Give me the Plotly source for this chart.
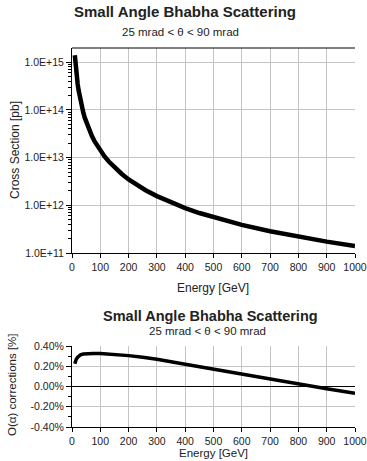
import plotly.graph_objects as go

# Top panel: cross section vs energy
energy_xs = [10, 11, 12, 13, 14, 15, 17, 20, 23, 26, 30, 35, 40, 45, 50, 60, 70, 80, 90,
             100, 115, 130, 150, 175, 200, 230, 260, 300, 350, 400, 450, 500, 550, 600,
             700, 800, 900, 1000]
cross_section = [1.40e15, 1.16e15, 9.7e14, 8.3e14, 7.1e14, 6.2e14, 4.85e14, 3.5e14,
                 2.65e14, 2.07e14, 1.56e14, 1.14e14, 8.75e13, 6.9e13, 5.6e13, 3.9e13,
                 2.86e13, 2.19e13, 1.73e13, 1.4e13, 1.06e13, 8.3e12, 6.2e12, 4.6e12,
                 3.5e12, 2.65e12, 2.07e12, 1.56e12, 1.14e12, 8.75e11, 6.9e11, 5.6e11,
                 4.6e11, 3.9e11, 2.86e11, 2.19e11, 1.73e11, 1.4e11]

# Bottom panel: O(alpha) corrections in percent
energy_corr = [10, 12, 15, 20, 25, 30, 40, 50, 75, 100, 150, 200, 250, 300, 400, 500, 600,
               700, 800, 900, 1000]
corrections = [0.225, 0.25, 0.27, 0.29, 0.305, 0.313, 0.321, 0.325, 0.327, 0.325, 0.317,
               0.305, 0.289, 0.27, 0.22, 0.17, 0.12, 0.07, 0.026, -0.023, -0.066]

x_ticks = [0, 100, 200, 300, 400, 500, 600, 700, 800, 900, 1000]
xs_tickvals = [1e11, 1e12, 1e13, 1e14, 1e15]
xs_ticktext = ["1.0E+11", "1.0E+12", "1.0E+13", "1.0E+14", "1.0E+15"]
xs_minor = [m * d for d in [1e11, 1e12, 1e13, 1e14, 1e15] for m in range(2, 10)
            if m * d <= 2e15]
corr_tickvals = [-0.4, -0.2, 0.0, 0.2, 0.4]
corr_ticktext = ["-0.40%", "-0.20%", "0.00%", "0.20%", "0.40%"]
corr_minor = [-0.3, -0.1, 0.1, 0.3]

title = "Small Angle Bhabha Scattering"
subtitle = "25 mrad < θ < 90 mrad"

W, H = 367, 461
FONT = "Liberation Sans, Arial, Helvetica, sans-serif"
GRID = "#c4c4c4"
TXT = "#222"

def py(p):
    return 1 - p / H

def px(p):
    return p / W

fig = go.Figure()
fig.add_trace(go.Scatter(x=energy_xs, y=cross_section, mode="lines",
                         line=dict(color="black", width=4.5), xaxis="x", yaxis="y",
                         showlegend=False))
fig.add_trace(go.Scatter(x=energy_corr, y=corrections, mode="lines",
                         line=dict(color="black", width=3.5), xaxis="x2", yaxis="y2",
                         showlegend=False))

xdom = [px(72), px(355)]
common_x = dict(range=[0, 1000.01], tickvals=x_ticks, showgrid=True, gridcolor=GRID,
                gridwidth=1, showline=True, linecolor="black", linewidth=1,
                ticks="outside", ticklen=4, tickcolor="black", zeroline=False,
                ticklabeloverflow="allow", automargin=False,
                tickfont=dict(size=10.5, color=TXT), domain=xdom)

fig.update_layout(
    width=W, height=H, margin=dict(l=0, r=0, t=0, b=0, autoexpand=False),
    paper_bgcolor="white", plot_bgcolor="white",
    font=dict(family=FONT, color=TXT),
    xaxis=dict(anchor="y", **common_x),
    yaxis=dict(type="log", range=[11, 15.3], domain=[py(253), py(48)], anchor="x",
               tickvals=xs_tickvals, ticktext=xs_ticktext, showgrid=True, gridcolor=GRID,
               showline=True, linecolor="black", linewidth=1, ticks="outside",
               ticklen=5, tickcolor="black", tickfont=dict(size=10.5, color=TXT),
               minor=dict(tickvals=xs_minor, ticks="outside", ticklen=3,
                          tickcolor="black", showgrid=False),
               zeroline=False, automargin=False),
    xaxis2=dict(anchor="y2", **common_x),
    yaxis2=dict(range=[-0.4, 0.4], domain=[py(427), py(346)], anchor="x2",
                tickvals=corr_tickvals, ticktext=corr_ticktext, showgrid=True,
                gridcolor=GRID, showline=True, linecolor="black", linewidth=1,
                ticks="outside", ticklen=5, tickcolor="black",
                tickfont=dict(size=10.5, color=TXT),
                minor=dict(tickvals=corr_minor, ticks="outside", ticklen=3,
                           tickcolor="black", showgrid=False),
                zeroline=True, zerolinecolor="black", zerolinewidth=1, automargin=False),
)

fig.add_shape(type="line", xref="x domain", yref="y domain", x0=0, x1=1, y0=1, y1=1,
              line=dict(color="black", width=1))

ann = [
    dict(text="<b>" + title + "</b>", x=px(185), y=py(12), size=15),
    dict(text=subtitle, x=px(180), y=py(32), size=11.5),
    dict(text="<b>" + title + "</b>", x=px(210), y=py(316), size=14.5),
    dict(text=subtitle, x=px(207), y=py(331), size=11.5),
    dict(text="Energy [GeV]", x=px(213), y=py(288), size=12),
    dict(text="Energy [GeV]", x=px(213), y=py(453), size=11.5),
]
for a in ann:
    fig.add_annotation(text=a["text"], x=a["x"], y=a["y"], xref="paper", yref="paper",
                       showarrow=False, xanchor="center", yanchor="middle",
                       font=dict(size=a["size"], family=FONT, color=TXT))

fig.add_annotation(text="Cross Section [pb]", x=px(15), y=py(150), xref="paper",
                   yref="paper", showarrow=False, textangle=-90, xanchor="center",
                   yanchor="middle", font=dict(size=12, family=FONT, color=TXT))
fig.add_annotation(text="O(α) corrections [%]", x=px(12), y=py(385), xref="paper",
                   yref="paper", showarrow=False, textangle=-90, xanchor="center",
                   yanchor="middle", font=dict(size=11.5, family=FONT, color=TXT))

fig.write_html("out.html")
